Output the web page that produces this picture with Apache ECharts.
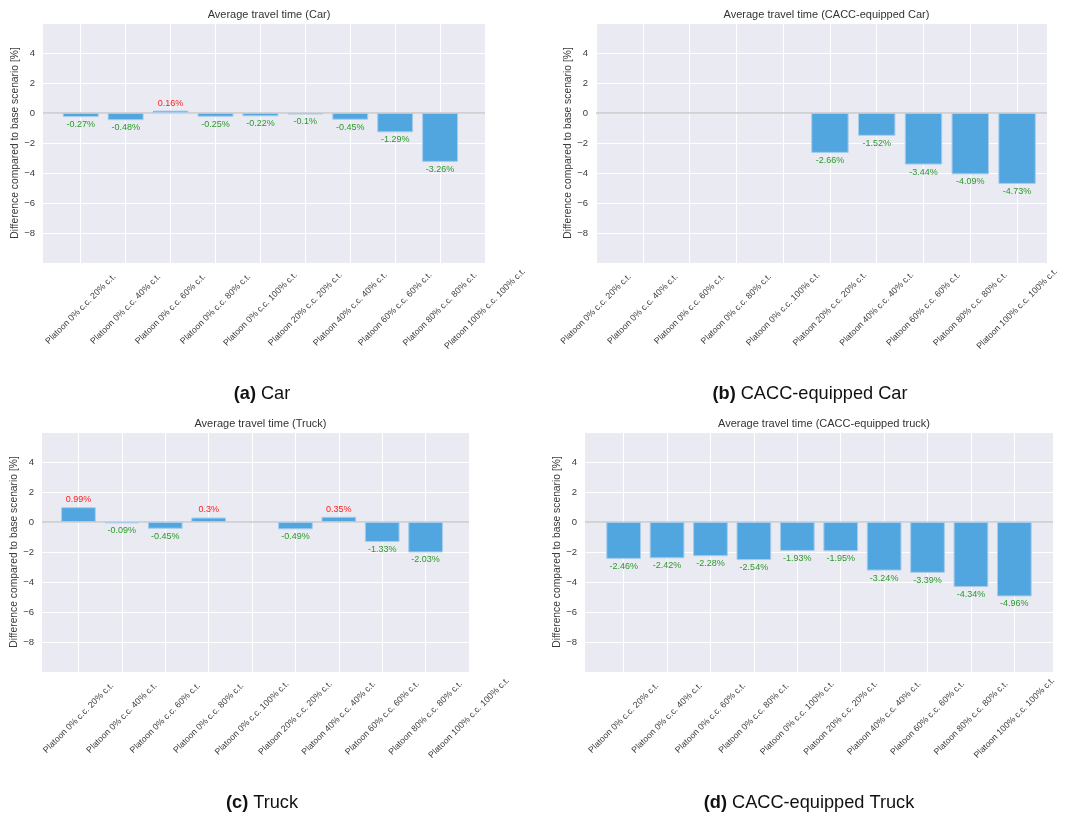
<!DOCTYPE html>
<html>
<head>
<meta charset="utf-8">
<script src="https://cdn.jsdelivr.net/npm/echarts@6/dist/echarts.min.js"></script>
<style>
html,body{margin:0;padding:0;background:#fff;}
#chart{width:1072px;height:818px;}
</style>
</head>
<body>
<div id="chart"></div>
<script>
const categories = [
  'Platoon 0% c.c. 20% c.t.', 'Platoon 0% c.c. 40% c.t.', 'Platoon 0% c.c. 60% c.t.',
  'Platoon 0% c.c. 80% c.t.', 'Platoon 0% c.c. 100% c.t.', 'Platoon 20% c.c. 20% c.t.',
  'Platoon 40% c.c. 40% c.t.', 'Platoon 60% c.c. 60% c.t.', 'Platoon 80% c.c. 80% c.t.',
  'Platoon 100% c.c. 100% c.t.'
];
const carValues = [-0.27, -0.48, 0.16, -0.25, -0.22, -0.1, -0.45, -1.29, -3.26, null];
const caccCarValues = [null, null, null, null, null, -2.66, -1.52, -3.44, -4.09, -4.73];
const truckValues = [0.99, -0.09, -0.45, 0.3, null, -0.49, 0.35, -1.33, -2.03, null];
const caccTruckValues = [-2.46, -2.42, -2.28, -2.54, -1.93, -1.95, -3.24, -3.39, -4.34, -4.96];
const chartTitles = ['Average travel time (Car)', 'Average travel time (CACC-equipped Car)',
  'Average travel time (Truck)', 'Average travel time (CACC-equipped truck)'];
const captionLetters = ['(a)', '(b)', '(c)', '(d)'];
const captionNames = ['Car', 'CACC-equipped Car', 'Truck', 'CACC-equipped Truck'];
const yTicks = [-8, -6, -4, -2, 0, 2, 4];
const yLabel = 'Difference compared to base scenario [%]';

const panels = [
  {vals: carValues, left: 43, top: 23, width: 442, height: 240, xmin: -0.84, xmax: 9, capX: 257},
  {vals: caccCarValues, left: 596, top: 23, width: 451, height: 240, xmin: 0, xmax: 9.64, capX: 805},
  {vals: truckValues, left: 42, top: 432, width: 427, height: 240, xmin: -0.84, xmax: 9, capX: 257},
  {vals: caccTruckValues, left: 585, top: 432, width: 468, height: 240, xmin: -0.89, xmax: 9.89, capX: 804}
];

const FONT = '"Liberation Sans", Arial, sans-serif';
const grids = [], xAxes = [], yAxes = [], series = [], titles = [];
const tickIdx = categories.map((c, i) => i);

panels.forEach((p, k) => {
  grids.push({left: p.left, top: p.top, width: p.width, height: p.height,
    show: true, backgroundColor: '#EAEAF2', borderWidth: 0, containLabel: false});
  xAxes.push({
    type: 'value', gridIndex: k, min: p.xmin, max: p.xmax,
    axisLine: {show: false}, axisTick: {show: false, customValues: tickIdx},
    splitLine: {show: true, lineStyle: {color: '#ffffff', width: 1}},
    axisLabel: {
      customValues: tickIdx, rotate: 45, align: 'center', verticalAlign: 'middle',
      margin: 46, fontSize: 8.8, color: '#3a3a3a', fontFamily: FONT,
      formatter: v => categories[Math.round(v)] || ''
    }
  });
  yAxes.push({
    type: 'value', gridIndex: k, min: -10, max: 6, interval: 2,
    name: yLabel, nameLocation: 'middle', nameGap: 21, nameRotate: 90,
    nameTextStyle: {fontSize: 10.3, color: '#3a3a3a', fontFamily: FONT},
    axisLine: {show: false}, axisTick: {show: false},
    splitLine: {show: true, lineStyle: {color: '#ffffff', width: 1}},
    axisLabel: {
      fontSize: 9.5, color: '#3a3a3a', margin: 8, fontFamily: FONT,
      formatter: v => yTicks.indexOf(v) >= 0 ? String(v).replace('-', '\u2212') : ''
    }
  });
  const unit = p.width / (p.xmax - p.xmin);
  const data = [];
  p.vals.forEach((v, i) => {
    if (v === null) return;
    const pos = v >= 0;
    data.push({
      value: [i, v],
      label: {show: true, position: pos ? 'top' : 'bottom', distance: 3,
        color: pos ? '#ff2020' : '#2a9a2a', fontSize: 9, fontFamily: FONT,
        formatter: v + '%'}
    });
  });
  series.push({
    type: 'bar', xAxisIndex: k, yAxisIndex: k, data: data,
    barWidth: unit * 0.8,
    itemStyle: {color: '#52A6E0', borderColor: '#A8CDEB', borderWidth: 1},
    markLine: {silent: true, symbol: 'none', label: {show: false},
      lineStyle: {color: '#c9c9c9', width: 1.5, type: 'solid'},
      data: [{yAxis: 0}], z: 1},
    animation: false
  });
  titles.push({
    text: chartTitles[k], left: p.left + p.width / 2, top: p.top - 19, textAlign: 'center',
    textStyle: {fontSize: 11, fontWeight: 'normal', color: '#333', fontFamily: FONT}
  });
  titles.push({
    text: '{b|' + captionLetters[k] + '} ' + captionNames[k],
    left: p.capX, top: p.top + 357, textAlign: 'center',
    textStyle: {fontSize: 18.2, fontWeight: 'normal', color: '#111', fontFamily: FONT,
      rich: {b: {fontSize: 18.2, fontWeight: 'bold', color: '#111', fontFamily: FONT}}}
  });
});

const chart = echarts.init(document.getElementById('chart'), null, {renderer: 'canvas'});
chart.setOption({
  animation: false,
  backgroundColor: '#ffffff',
  title: titles, grid: grids, xAxis: xAxes, yAxis: yAxes, series: series
});
</script>
</body>
</html>
